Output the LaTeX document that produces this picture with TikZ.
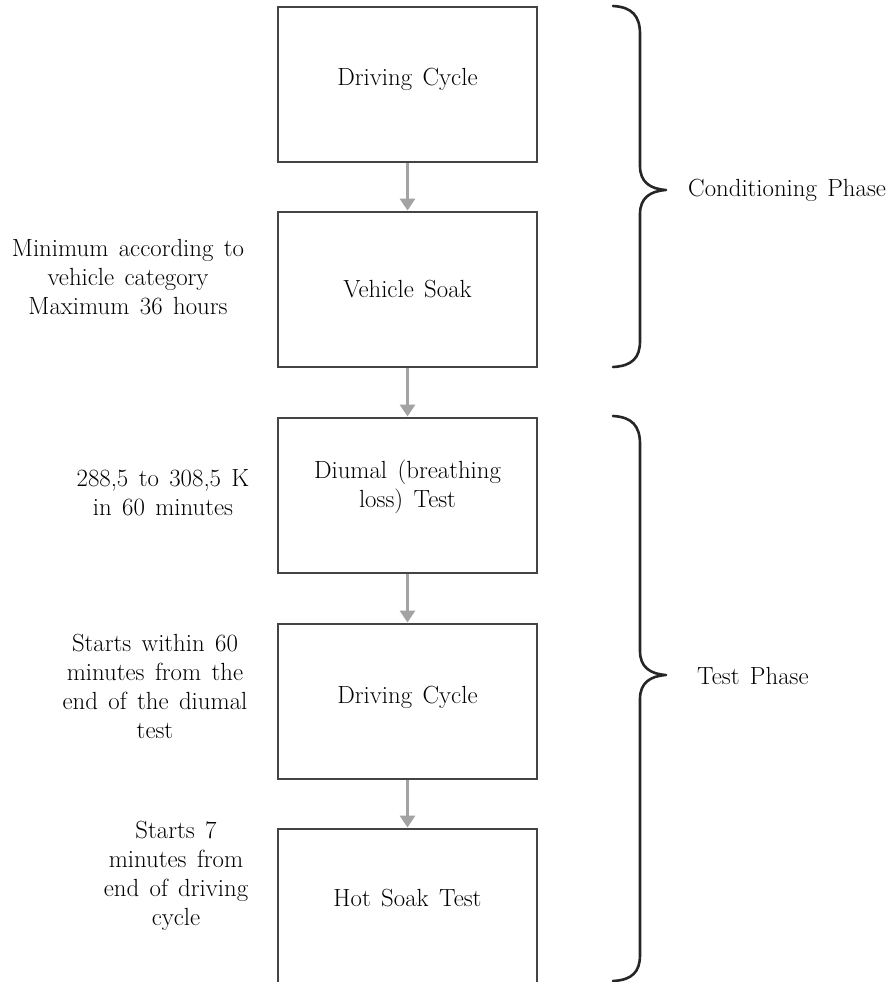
\documentclass[tikz,border=0pt]{standalone}
\usetikzlibrary{arrows.meta}
\definecolor{boxline}{HTML}{444444}
\definecolor{arrowgray}{HTML}{A3A3A3}
\newcommand{\diagfont}{\fontsize{24.8}{29}\selectfont\spaceskip=0.42em\relax}
\begin{document}
\begin{tikzpicture}[x=1pt,y=-1pt,
  every node/.style={font=\diagfont},
  stepbox/.style={draw=boxline,line width=2pt,minimum width=259pt,minimum height=155pt,align=center,inner sep=0pt},
  sidelabel/.style={align=center,inner sep=0pt},
  flow/.style={draw=arrowgray,line width=3pt,-{Triangle[width=15pt,length=12pt]}},
  brace/.style={draw=black!85,line width=2.6pt,line cap=round,line join=round}]
\useasboundingbox (0,0) rectangle (894,982);
\fill[white] (0,0) rectangle (894,982);

\node[stepbox,text depth=15pt] (b1) at (407.5,84.5) {Driving Cycle};
\node[stepbox] (b2) at (407.5,289) {Vehicle Soak};
\node[stepbox,text depth=22pt] (b3) at (407.5,495) {Diumal (breathing\\loss) Test};
\node[stepbox,text depth=13pt] (b4) at (407.5,701) {Driving Cycle};
\node[stepbox,text depth=16pt] (b5) at (407.5,906) {Hot Soak Test};

\draw[flow] (b1.south) -- (b2.north);
\draw[flow] (b2.south) -- (b3.north);
\draw[flow] (b3.south) -- (b4.north);
\draw[flow] (b4.south) -- (b5.north);

\node[sidelabel] (l2) at (128,277) {Minimum according to\\vehicle category\\Maximum 36 hours};
\node[sidelabel] (l3) at (163,493) {288,5 to 308,5 K\\in 60 minutes};
\node[sidelabel] (l4) at (155,686) {Starts within 60\\minutes from the\\end of the diumal\\test};
\node[sidelabel] (l5) at (176,876) {Starts 7\\minutes from\\end of driving\\cycle};

% Conditioning brace
\draw[brace] (613,6) .. controls (632,7) and (640,16) .. (640,34)
  -- (640,166) .. controls (640,182) and (650,189) .. (666,190)
  .. controls (650,191) and (640,198) .. (640,214)
  -- (640,341) .. controls (640,358) and (632,366) .. (613,367);
\node[anchor=west,inner sep=0pt] (cp) at (688,190) {Conditioning Phase};

% Test brace
\draw[brace] (613,416) .. controls (632,417) and (640,426) .. (640,444)
  -- (640,651) .. controls (640,667) and (650,674) .. (666,675)
  .. controls (650,676) and (640,683) .. (640,699)
  -- (640,955) .. controls (640,972) and (632,980) .. (613,981);
\node[anchor=west,inner sep=0pt] (tp) at (697,676) {Test Phase};
\end{tikzpicture}
\end{document}
